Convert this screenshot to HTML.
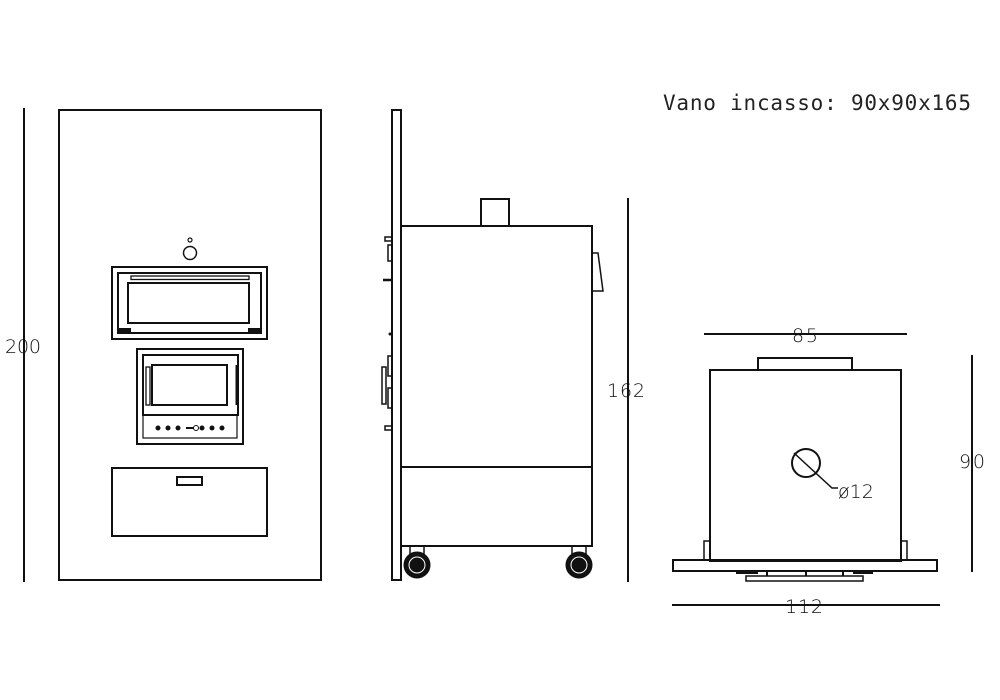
<!DOCTYPE html>
<html><head><meta charset="utf-8"><style>
html,body{margin:0;padding:0;background:#fff;}
svg{display:block;}
.d{font-family:"DejaVu Sans","Liberation Sans",sans-serif;font-size:19px;fill:#111;font-weight:200;}
</style></head><body>
<svg width="1000" height="700" viewBox="0 0 1000 700" xmlns="http://www.w3.org/2000/svg">
<rect width="1000" height="700" fill="#fff"/>
<g fill="none" stroke="#111" stroke-width="2">
<!-- front view -->
<rect x="59" y="110" width="262" height="470"/>
<line x1="24" y1="108" x2="24" y2="582"/>
<circle cx="190" cy="253" r="6.5" stroke-width="1.5"/>
<circle cx="190" cy="240" r="2" stroke-width="1.2"/>
<rect x="112" y="267" width="155" height="72"/>
<rect x="118" y="273" width="143" height="60"/>
<rect x="131" y="276" width="118" height="3.5" stroke-width="1.3"/>
<rect x="128" y="283" width="121" height="40"/>
<rect x="118" y="329" width="12" height="4" fill="#111"/>
<rect x="249" y="329" width="12" height="4" fill="#111"/>
<rect x="137" y="349" width="106" height="95"/>
<rect x="143" y="355" width="95" height="60"/>
<rect x="152" y="365" width="75" height="40"/>
<rect x="146" y="367" width="4" height="38" stroke-width="1.3"/>
<line x1="237" y1="365" x2="237" y2="405" stroke-width="3"/>
<rect x="143" y="415" width="94" height="23" stroke-width="1.2"/>
<rect x="112" y="468" width="155" height="68"/>
<rect x="177" y="477" width="25" height="8"/>
<!-- side view -->
<rect x="392" y="110" width="9" height="470"/>
<rect x="401" y="226" width="191" height="320"/>
<line x1="401" y1="467" x2="592" y2="467"/>
<rect x="481" y="199" width="28" height="27"/>
<path d="M592 253 L598 253 L603 291 L592 291" stroke-width="1.5"/>
<rect x="385" y="237" width="7" height="4" stroke-width="1.5"/>
<rect x="388" y="245" width="4" height="16" stroke-width="1.5"/>
<line x1="383" y1="280" x2="392" y2="280" stroke-width="2.5"/>
<rect x="388" y="356" width="4" height="20" stroke-width="1.5"/>
<rect x="382" y="367" width="4" height="37" stroke-width="1.5"/>
<rect x="388" y="388" width="4" height="20" stroke-width="1.5"/>
<rect x="385" y="426" width="7" height="4" stroke-width="1.5"/>
<line x1="628" y1="198" x2="628" y2="582"/>
<!-- right view -->
<rect x="710" y="370" width="191" height="191"/>
<rect x="758" y="358" width="94" height="12"/>
<rect x="673" y="560" width="264" height="11"/>
<rect x="704" y="541" width="6" height="19" stroke-width="1.5"/>
<rect x="901" y="541" width="6" height="19" stroke-width="1.5"/>
<rect x="746" y="576" width="117" height="5" stroke-width="1.5"/>
<line x1="767" y1="571" x2="767" y2="576"/><line x1="806" y1="571" x2="806" y2="576"/><line x1="843" y1="571" x2="843" y2="576"/>
<line x1="736" y1="573" x2="758" y2="573" stroke-width="2"/><line x1="853" y1="573" x2="873" y2="573" stroke-width="2"/>
<circle cx="806" cy="463" r="14"/>
<path d="M794 453 L832 488 L838 488" stroke-width="1.5"/>
<line x1="704" y1="334" x2="907" y2="334"/>
<line x1="972" y1="355" x2="972" y2="572"/>
<line x1="672" y1="605" x2="940" y2="605"/>
</g>
<g fill="#111">
<circle cx="158" cy="428" r="2.5"/><circle cx="168" cy="428" r="2.5"/><circle cx="178" cy="428" r="2.5"/>
<circle cx="202" cy="428" r="2.5"/><circle cx="212" cy="428" r="2.5"/><circle cx="222" cy="428" r="2.5"/>
<rect x="186" y="427" width="8" height="2"/><circle cx="196" cy="428" r="2.5" fill="none" stroke="#111"/>
<circle cx="390" cy="334" r="1.5"/>
</g>
<!-- wheels -->
<g stroke="#111">
<rect x="410" y="546" width="14" height="14" fill="none" stroke-width="1.5"/>
<rect x="572" y="546" width="14" height="14" fill="none" stroke-width="1.5"/>
<circle cx="417" cy="565" r="13" fill="#111"/>
<circle cx="417" cy="565" r="8" fill="none" stroke="#fff" stroke-width="1"/>
<circle cx="579" cy="565" r="13" fill="#111"/>
<circle cx="579" cy="565" r="8" fill="none" stroke="#fff" stroke-width="1"/>
</g>
<!-- labels -->
<text class="d" x="5" y="353" textLength="36">200</text>
<text class="d" x="607" y="397" textLength="38">162</text>
<text class="d" x="792" y="342" textLength="26">85</text>
<text class="d" x="959" y="468" textLength="26">90</text>
<text class="d" x="785" y="613" textLength="38">112</text>
<text class="d" x="838" y="498">ø12</text>
<text x="663" y="110" font-family="'DejaVu Sans Mono','Liberation Mono',monospace" font-size="21" fill="#222" textLength="308">Vano incasso: 90x90x165</text>
</svg>
</body></html>
